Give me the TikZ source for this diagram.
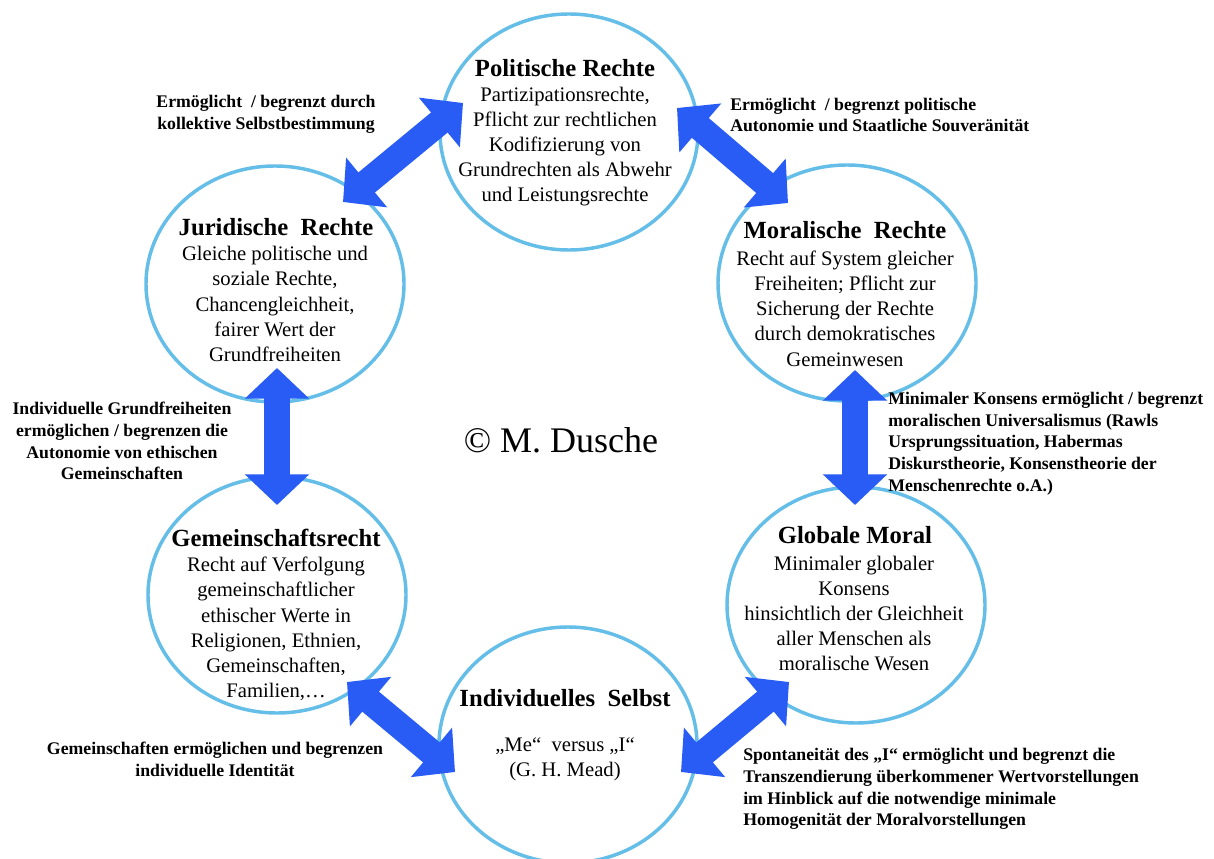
\documentclass[tikz,border=0pt]{standalone}
\usepackage{fontspec}
\setmainfont{Liberation Serif}
\usetikzlibrary{arrows.meta,shapes.geometric}
\definecolor{ringblue}{RGB}{100,190,232}
\definecolor{arrowblue}{RGB}{40,92,244}
\begin{document}
\begin{tikzpicture}[x=0.75pt,y=-0.75pt,
 ring/.style={ellipse, draw=ringblue, line width=2.6pt, minimum width=193.5pt, minimum height=177pt, inner sep=0pt},
 dblarrow/.style={draw=arrowblue, line width=19.5pt, {Triangle[width=47pt,length=23pt]}-{Triangle[width=47pt,length=23pt]}},
 ttl/.style={font=\fontsize{18.5}{22}\selectfont\bfseries, inner sep=0pt},
 body/.style={font=\fontsize{15.5}{18.9}\selectfont, align=center, inner sep=0pt},
 lbl/.style={font=\fontsize{13.3}{16.3}\selectfont\bfseries, inner sep=0pt},
]
\fill[white] (0,0) rectangle (1214,859);
\useasboundingbox (0,0) rectangle (1214,859);

% circles
\node[ring] (pol) at (569,132) {};
\node[ring] (jur) at (275,284) {};
\node[ring] (mor) at (847,283) {};
\node[ring] (gem) at (277,595) {};
\node[ring] (glob) at (856,605) {};
\node[ring] (ind) at (568,745) {};

% arrow end points
\coordinate (a1p) at (463,103);
\coordinate (a1j) at (343,202);
\coordinate (a2p) at (677,108);
\coordinate (a2m) at (788,203);
\coordinate (a3j) at (277,368);
\coordinate (a3g) at (277,505);
\coordinate (a4m) at (855,370);
\coordinate (a4g) at (855,505);
\coordinate (a5g) at (347,682);
\coordinate (a5i) at (455,772);
\coordinate (a6g) at (789,682);
\coordinate (a6i) at (681,772);

\draw[dblarrow] (a1p) -- (a1j);
\draw[dblarrow] (a2p) -- (a2m);
\draw[dblarrow] (a3j) -- (a3g);
\draw[dblarrow] (a4m) -- (a4g);
\draw[dblarrow] (a5g) -- (a5i);
\draw[dblarrow] (a6g) -- (a6i);

% circle texts
\node[ttl] (polt) at (565,68) {Politische Rechte};
\node[body] (polb) at (565,146.5) {Partizipationsrechte,\\Pflicht zur rechtlichen\\Kodifizierung von\\Grundrechten als Abwehr\\und Leistungsrechte};

\node[ttl] (jurt) at (276,227) {Juridische\ \ Rechte};
\node[body] (jurb) at (275,304) {Gleiche politische und\\soziale Rechte,\\Chancengleichheit,\\fairer Wert der\\Grundfreiheiten};

\node[ttl] (mort) at (845,230) {Moralische\ \ Rechte};
\node[body] (morb) at (845,308.5) {Recht auf System gleicher\\Freiheiten; Pflicht zur\\Sicherung der Rechte\\durch demokratisches\\Gemeinwesen};

\node[ttl] (gemt) at (276,538) {Gemeinschaftsrecht};
\node[body] (gemb) at (276,629) {Recht auf Verfolgung\\gemeinschaftlicher\\ethischer Werte in\\Religionen, Ethnien,\\Gemeinschaften,\\Familien,…};

\node[ttl] (globt) at (855,535) {Globale Moral};
\node[body] (globb) at (854,613.5) {Minimaler globaler\\Konsens\\hinsichtlich der Gleichheit\\aller Menschen als\\moralische Wesen};

\node[ttl] (indt) at (565,698) {Individuelles\ \ Selbst};
\node[body] (indb) at (565,759.5) {„Me“\ \ versus „I“\\(G. H. Mead)};

\node[font=\fontsize{27}{32}\selectfont, inner sep=0pt] (copy) at (561,440) {© M. Dusche};

% connector labels
\node[lbl, align=center] (l1) at (266,114) {Ermöglicht\ \ / begrenzt durch\\kollektive Selbstbestimmung};
\node[lbl, align=left, anchor=west] (l2) at (730,115) {Ermöglicht\ \ / begrenzt politische\\Autonomie und Staatliche Souveränität};
\node[lbl, align=center] (l3) at (122,441) {Individuelle Grundfreiheiten\\ermöglichen / begrenzen die\\Autonomie von ethischen\\Gemeinschaften};
\node[lbl, align=left, anchor=west] (l4) at (888,443.5) {Minimaler Konsens ermöglicht / begrenzt\\moralischen Universalismus (Rawls\\Ursprungssituation, Habermas\\Diskurstheorie, Konsenstheorie der\\Menschenrechte o.A.)};
\node[lbl, align=center] (l5) at (215,759) {Gemeinschaften ermöglichen und begrenzen\\individuelle Identität};
\node[lbl, align=left, anchor=west] (l6) at (743,789) {Spontaneität des „I“ ermöglicht und begrenzt die\\Transzendierung überkommener Wertvorstellungen\\im Hinblick auf die notwendige minimale\\Homogenität der Moralvorstellungen};
\end{tikzpicture}
\end{document}
